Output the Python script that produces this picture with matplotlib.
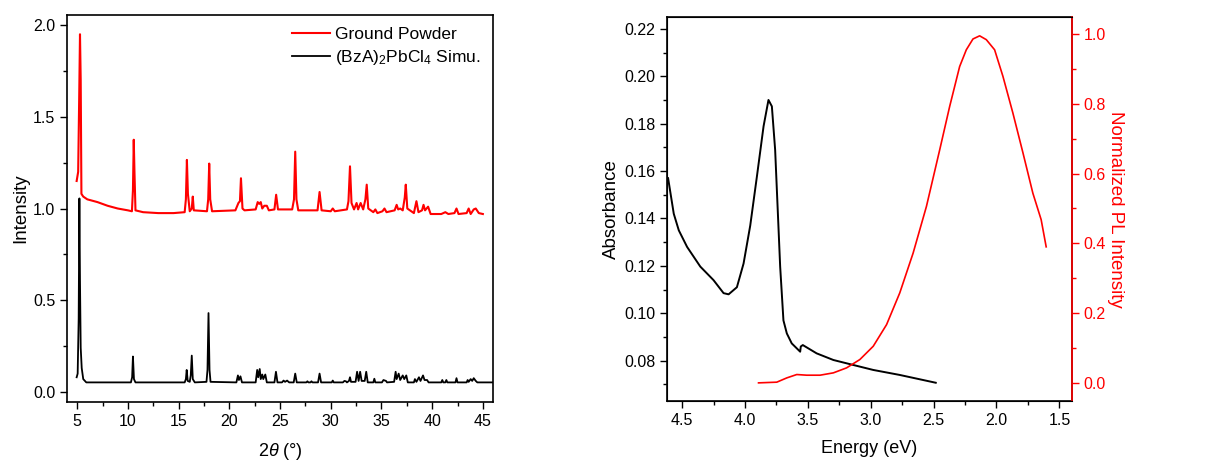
import matplotlib
matplotlib.use("Agg")
import matplotlib.pyplot as plt
from matplotlib.ticker import MultipleLocator

plt.rcParams['font.family'] = ['Liberation Sans', 'DejaVu Sans']
plt.rcParams['mathtext.fontset'] = 'custom'
plt.rcParams['mathtext.rm'] = 'Liberation Sans'
plt.rcParams['mathtext.it'] = 'Liberation Sans:italic'
plt.rcParams['mathtext.default'] = 'regular'

# ---------------- XRD data ----------------
ground_x = [4.95, 5.1, 5.2, 5.28, 5.35, 5.42, 5.6, 6.0, 7.0, 8.0, 9.0, 10.0, 10.4, 10.5, 10.58, 10.65, 10.75,
            11.5, 13.0, 14.5, 15.6, 15.72, 15.82, 15.92, 16.1, 16.3, 16.4, 16.5, 17.8, 17.92, 18.02, 18.12, 18.3,
            20.6, 20.9, 21.05, 21.15, 21.3, 21.5, 22.6, 22.8, 22.95, 23.1, 23.25, 23.45, 23.7, 23.9, 24.45, 24.62,
            24.8, 26.2, 26.38, 26.5, 26.62, 26.8, 28.7, 28.9, 29.1, 30.0, 30.2, 30.4, 31.6, 31.75, 31.9, 32.05,
            32.3, 32.55, 32.7, 32.95, 33.2, 33.42, 33.55, 33.7, 34.2, 34.4, 34.6, 35.1, 35.3, 35.5, 36.3, 36.5,
            36.65, 36.85, 37.1, 37.3, 37.4, 37.55, 38.2, 38.45, 38.65, 39.0, 39.15, 39.3, 39.6, 39.85, 40.9, 41.3,
            41.6, 42.2, 42.4, 42.6, 43.4, 43.6, 43.8, 44.1, 44.3, 44.6, 45.0]
ground_y = [1.15, 1.2, 1.6, 1.95, 1.7, 1.08, 1.065, 1.05, 1.035, 1.015, 1.0, 0.99, 0.985, 1.1, 1.375, 1.2, 0.99,
            0.98, 0.975, 0.975, 0.98, 1.05, 1.265, 1.08, 0.985, 1.0, 1.065, 0.99, 0.985, 1.05, 1.245, 1.05, 0.985,
            0.99, 1.03, 1.04, 1.165, 1.0, 0.99, 0.995, 1.035, 1.025, 1.035, 1.0, 1.015, 1.015, 0.99, 0.995, 1.075,
            0.995, 0.995, 1.05, 1.31, 1.05, 0.99, 0.99, 1.09, 0.99, 0.985, 1.0, 0.985, 0.995, 1.04, 1.23, 1.03,
            0.995, 1.03, 0.995, 1.03, 0.995, 1.05, 1.13, 1.0, 0.98, 0.995, 0.975, 0.985, 1.0, 0.98, 0.99, 1.02,
            0.995, 1.0, 0.99, 1.06, 1.13, 1.0, 0.975, 1.04, 0.98, 0.99, 1.02, 0.99, 1.01, 0.97, 0.97, 0.98,
            0.97, 0.975, 1.0, 0.97, 0.975, 1.0, 0.97, 0.995, 1.0, 0.975, 0.97]

simu_x = [4.95, 5.05, 5.15, 5.22, 5.28, 5.35, 5.45, 5.6, 5.9, 10.3, 10.42, 10.5, 10.6, 10.75, 15.6, 15.72, 15.8,
          15.9, 16.1, 16.2, 16.3, 16.4, 16.6, 17.75, 17.85, 17.95, 18.05, 18.15, 20.7, 20.85, 20.95, 21.1, 21.25,
          22.6, 22.75, 22.85, 23.0, 23.1, 23.25, 23.35, 23.55, 23.7, 24.45, 24.6, 24.75, 25.2, 25.35, 25.5, 25.7,
          25.9, 26.35, 26.5, 26.65, 27.6, 27.7, 27.8, 28.0, 28.1, 28.2, 28.75, 28.9, 29.05, 30.1, 30.2, 30.3,
          31.2, 31.35, 31.5, 31.6, 31.8, 31.9, 32.0, 32.45, 32.6, 32.75, 32.9, 33.05, 33.35, 33.5, 33.65, 34.2,
          34.3, 34.4, 35.05, 35.2, 35.45, 35.55, 36.25, 36.4, 36.5, 36.7, 36.85, 37.1, 37.25, 37.45, 37.6, 38.2,
          38.3, 38.45, 38.7, 38.85, 39.1, 39.25, 39.5, 39.65, 40.9, 41.0, 41.1, 41.3, 41.4, 41.5, 42.3, 42.4,
          42.5, 43.4, 43.5, 43.6, 43.8, 43.95, 44.1, 44.3, 44.45, 46.0]
simu_y = [0.08, 0.1, 0.4, 1.055, 0.6, 0.24, 0.13, 0.07, 0.052, 0.052, 0.08, 0.193, 0.07, 0.052, 0.052, 0.07, 0.12,
          0.06, 0.055, 0.09, 0.198, 0.07, 0.052, 0.055, 0.12, 0.43, 0.12, 0.055, 0.052, 0.09, 0.065, 0.085, 0.052,
          0.052, 0.12, 0.08, 0.125, 0.07, 0.095, 0.07, 0.095, 0.052, 0.052, 0.11, 0.052, 0.052, 0.062, 0.055, 0.062,
          0.052, 0.052, 0.1, 0.052, 0.052, 0.058, 0.052, 0.052, 0.058, 0.052, 0.052, 0.1, 0.052, 0.052, 0.062, 0.052,
          0.052, 0.06, 0.058, 0.052, 0.06, 0.08, 0.055, 0.055, 0.11, 0.06, 0.11, 0.06, 0.06, 0.11, 0.052, 0.052,
          0.072, 0.052, 0.052, 0.065, 0.06, 0.052, 0.055, 0.11, 0.07, 0.1, 0.065, 0.09, 0.07, 0.09, 0.052, 0.052,
          0.07, 0.055, 0.08, 0.06, 0.09, 0.065, 0.065, 0.052, 0.052, 0.065, 0.052, 0.052, 0.065, 0.052, 0.052, 0.075,
          0.052, 0.052, 0.065, 0.055, 0.07, 0.06, 0.075, 0.06, 0.052, 0.052]

# ---------------- Absorbance / PL data ----------------
abs_energy = [4.611, 4.566, 4.526, 4.46, 4.355, 4.25, 4.17, 4.13, 4.064, 4.011, 3.958, 3.905, 3.852, 3.813,
              3.786, 3.76, 3.72, 3.694, 3.667, 3.628, 3.561, 3.556, 3.54, 3.43, 3.297, 3.139, 2.98, 2.77, 2.483]
abs_value = [0.157, 0.142, 0.135, 0.128, 0.1197, 0.114, 0.1085, 0.108, 0.111, 0.121, 0.137, 0.1577, 0.1789, 0.190,
             0.1873, 0.169, 0.1197, 0.097, 0.0915, 0.0873, 0.0838, 0.086, 0.0866, 0.0831, 0.0803, 0.0782, 0.0761,
             0.074, 0.0707]

pl_energy = [3.892, 3.747, 3.667, 3.588, 3.509, 3.403, 3.297, 3.192, 3.086, 2.98, 2.874, 2.769, 2.663, 2.557,
             2.451, 2.372, 2.293, 2.24, 2.187, 2.134, 2.081, 2.015, 1.949, 1.87, 1.79, 1.711, 1.645, 1.605]
pl_value = [0.0, 0.002, 0.0143, 0.0239, 0.022, 0.022, 0.0287, 0.043, 0.067, 0.105, 0.167, 0.258, 0.372, 0.506,
            0.669, 0.793, 0.907, 0.955, 0.986, 0.995, 0.984, 0.955, 0.879, 0.774, 0.66, 0.544, 0.468, 0.39]

TICK_FS = 11.5
XLABEL_FS = 13
YLABEL_FS = 13.5
LEGEND_FS = 12.5
RED = '#ff0000'

fig = plt.figure(figsize=(12.14, 4.63), dpi=100)

# ---------------- Left panel ----------------
ax1 = fig.add_axes([0.0552, 0.1317, 0.3509, 0.8359])
ax1.plot(ground_x, ground_y, color=RED, lw=1.5, label='Ground Powder')
ax1.plot(simu_x, simu_y, color='black', lw=1.3, label=r'(BzA)$_2$PbCl$_4$ Simu.')
ax1.set_xlim(4.0, 46.0)
ax1.set_ylim(-0.055, 2.055)
ax1.xaxis.set_major_locator(MultipleLocator(5))
ax1.xaxis.set_minor_locator(MultipleLocator(2.5))
ax1.yaxis.set_major_locator(MultipleLocator(0.5))
ax1.yaxis.set_minor_locator(MultipleLocator(0.25))
ax1.tick_params(which='both', direction='out', top=False, right=False, labelsize=TICK_FS, width=1.0)
ax1.tick_params(which='major', length=5)
ax1.tick_params(which='minor', length=3)
ax1.set_ylabel('Intensity', fontsize=YLABEL_FS, labelpad=3)
ax1.set_xlabel(r'2$\mathit{\theta}$ (°)', fontsize=XLABEL_FS, labelpad=9)
for s in ax1.spines.values():
    s.set_linewidth(1.2)
leg = ax1.legend(loc='upper right', frameon=False, fontsize=LEGEND_FS, handlelength=2.2,
                 borderaxespad=0.3, labelspacing=0.35, handletextpad=0.3)

# ---------------- Right panel ----------------
ax2 = fig.add_axes([0.5494, 0.1339, 0.3336, 0.8294])
ax2.plot(abs_energy, abs_value, color='black', lw=1.4)
ax2.set_xlim(4.62, 1.40)
ax2.set_ylim(0.063, 0.225)
ax2.xaxis.set_major_locator(MultipleLocator(0.5))
ax2.xaxis.set_minor_locator(MultipleLocator(0.25))
ax2.yaxis.set_major_locator(MultipleLocator(0.02))
ax2.yaxis.set_minor_locator(MultipleLocator(0.01))
ax2.tick_params(which='both', direction='out', top=False, right=False, labelsize=TICK_FS, width=1.0)
ax2.tick_params(which='major', length=5)
ax2.tick_params(which='minor', length=3)
ax2.set_xlabel('Energy (eV)', fontsize=XLABEL_FS, labelpad=9)
ax2.set_ylabel('Absorbance', fontsize=YLABEL_FS, labelpad=3)
for s in ax2.spines.values():
    s.set_linewidth(1.2)

ax3 = ax2.twinx()
ax3.plot(pl_energy, pl_value, color=RED, lw=1.2)
ax3.set_ylim(-0.052, 1.049)
ax3.yaxis.set_major_locator(MultipleLocator(0.2))
ax3.yaxis.set_minor_locator(MultipleLocator(0.1))
ax3.tick_params(which='both', direction='out', colors=RED, labelsize=TICK_FS, width=1.0)
ax3.tick_params(which='major', length=5)
ax3.tick_params(which='minor', length=3)
ax3.spines['right'].set_color(RED)
ax3.spines['right'].set_linewidth(1.2)
ax3.set_ylabel('Normalized PL Intensity', fontsize=YLABEL_FS, color=RED, rotation=270, labelpad=13)

fig.savefig('out.png', dpi=100)
